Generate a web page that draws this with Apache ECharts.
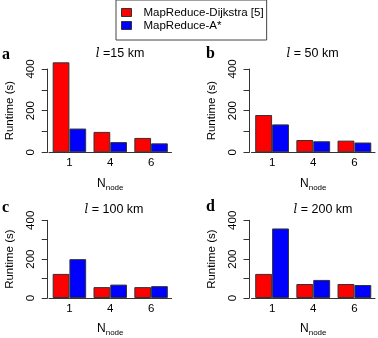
<!DOCTYPE html>
<html>
<head>
<meta charset="utf-8">
<script src="https://cdn.jsdelivr.net/npm/echarts@6/dist/echarts.min.js"></script>
<style>
html,body{margin:0;padding:0;background:#fff;}
#chart{width:378px;height:338px;}
</style>
</head>
<body>
<div id="chart"></div>
<script>
// ---- data ----
var categories = ['1', '4', '6'];
var seriesNames = ['MapReduce-Dijkstra [5]', 'MapReduce-A*'];
var panelLetters = ['a', 'b', 'c', 'd'];
var panelDistances = ['=15 km', '= 50 km', '= 100 km', '= 200 km'];
var dijkstraA = [432, 98, 69];
var astarA    = [114, 49, 43];
var dijkstraB = [179, 59, 56];
var astarB    = [134, 53, 47];
var dijkstraC = [124, 56, 56];
var astarC    = [200, 69, 61];
var dijkstraD = [124, 72, 72];
var astarD    = [358, 93, 67];
var yTicks = [0, 100, 200, 300, 400];

var dijkstraData = [dijkstraA, dijkstraB, dijkstraC, dijkstraD];
var astarData = [astarA, astarB, astarC, astarD];

// ---- layout ----
var FONT = 'Liberation Sans';
var grids = [
  {left: 49, top: 69, width: 122.5, height: 83.3},
  {left: 251.5, top: 69, width: 123.5, height: 83.3},
  {left: 49, top: 220.3, width: 122.5, height: 83.7},
  {left: 251.5, top: 220.3, width: 123.5, height: 83.7}
];
var yOffsets = [1.3, 2, 1.3, 2];
var titlePos = [[120, 53.5], [312.5, 53.5], [114, 210], [323, 210]];
var letterPos = [[6, 55], [210.5, 54], [5.5, 208], [210.5, 207]];

var chart = echarts.init(document.getElementById('chart'), null, {renderer: 'canvas'});

var xAxes = [], yAxes = [], series = [], graphics = [];
for (var i = 0; i < 4; i++) {
  xAxes.push({
    type: 'category', gridIndex: i, data: categories,
    axisLine: {show: true, lineStyle: {color: '#333', width: 1}},
    axisTick: {show: false},
    axisLabel: {fontFamily: FONT, fontSize: 11.5, color: '#000', margin: 5},
    name: '{n|N}{s|node}',
    nameLocation: 'middle', nameGap: 21,
    nameTextStyle: {
      rich: {
        n: {fontFamily: FONT, fontSize: 12, color: '#000', verticalAlign: 'bottom', lineHeight: 16},
        s: {fontFamily: FONT, fontSize: 8, color: '#000', verticalAlign: 'bottom', lineHeight: 16, padding: [0, 0, -2, 0]}
      }
    }
  });
  yAxes.push({
    type: 'value', gridIndex: i, min: 0, max: 400, interval: 100,
    offset: yOffsets[i],
    axisLine: {show: true, lineStyle: {color: '#333', width: 1}},
    axisTick: {show: true, length: 6, lineStyle: {color: '#333'}},
    splitLine: {show: false},
    axisLabel: {fontFamily: FONT, fontSize: 11.5, color: '#000', rotate: 90, margin: 11,
      formatter: function (v) { return yTicks.indexOf(v) >= 0 && v % 200 === 0 ? String(v) : ''; }},
    name: 'Runtime (s)', nameLocation: 'middle', nameGap: 32,
    nameTextStyle: {fontFamily: FONT, fontSize: 11.5, color: '#000'}
  });
  series.push({
    name: seriesNames[0], type: 'bar', xAxisIndex: i, yAxisIndex: i,
    data: dijkstraData[i], barGap: 0, barCategoryGap: '18%', clip: false,
    itemStyle: {color: '#ff0000', borderColor: '#333', borderWidth: 1}
  });
  series.push({
    name: seriesNames[1], type: 'bar', xAxisIndex: i, yAxisIndex: i,
    data: astarData[i], barGap: 0, barCategoryGap: '18%', clip: false,
    itemStyle: {color: '#0000ff', borderColor: '#333', borderWidth: 1}
  });
  graphics.push({
    type: 'text', x: titlePos[i][0], y: titlePos[i][1],
    style: {
      text: '{l|l} ' + panelDistances[i],
      fontFamily: FONT, fontSize: 12.5, fill: '#000',
      align: 'center', verticalAlign: 'middle',
      rich: {l: {fontFamily: 'DejaVu Serif', fontStyle: 'italic', fontSize: 12, fill: '#000'}}
    }
  });
  graphics.push({
    type: 'text', x: letterPos[i][0], y: letterPos[i][1],
    style: {
      text: panelLetters[i], fontFamily: 'Liberation Serif', fontWeight: 'bold',
      fontSize: 16, fill: '#000', align: 'center', verticalAlign: 'middle'
    }
  });
}

chart.setOption({
  animation: false,
  backgroundColor: '#fff',
  grid: grids,
  xAxis: xAxes,
  yAxis: yAxes,
  series: series,
  legend: {
    data: seriesNames,
    orient: 'vertical', left: 116, top: 0,
    padding: [6, 3, 8, 5],
    borderColor: '#444', borderWidth: 1,
    itemWidth: 10, itemHeight: 8, itemGap: 0,
    icon: 'rect',
    itemStyle: {borderColor: '#333', borderWidth: 1},
    textStyle: {fontFamily: FONT, fontSize: 11.5, color: '#000', padding: [0, 0, 0, 7], lineHeight: 13}
  },
  graphic: graphics
});
</script>
</body>
</html>
